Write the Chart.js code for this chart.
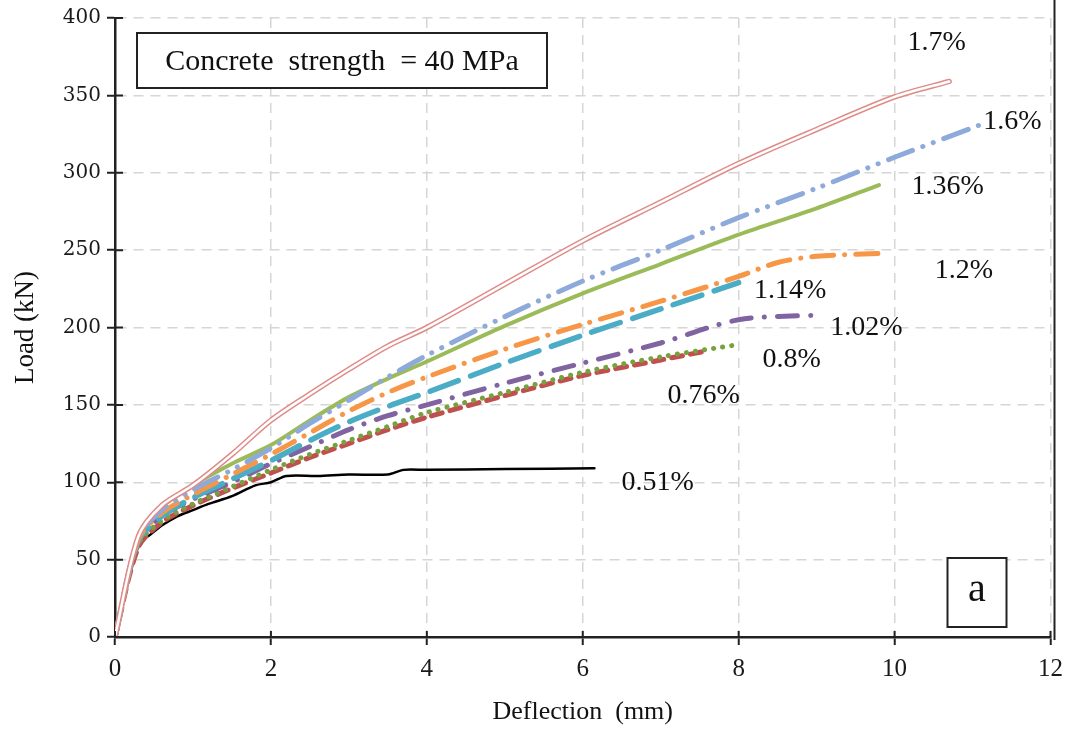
<!DOCTYPE html>
<html>
<head>
<meta charset="utf-8">
<script src="https://cdn.jsdelivr.net/npm/chart.js@4/dist/chart.umd.min.js"></script>
<style>
  html, body { margin: 0; padding: 0; background: #fff; }
  #wrap { width: 1072px; height: 733px; }
</style>
</head>
<body>
<div id="wrap"><canvas id="loadChart" width="1072" height="733"></canvas></div>
<script>
// load-deflection curves, one pair of arrays per reinforcement ratio
const x170 = [0, 0.3, 0.6, 1, 1.5, 2, 2.5, 3, 3.5, 4, 5, 6, 7, 8, 9, 10, 10.7];
const load170 = [0, 65, 85, 98, 118, 140, 157, 173, 188, 200, 228, 256, 281, 306, 328, 349, 359];

const x160 = [0, 0.3, 0.6, 1, 1.5, 2, 2.5, 3, 3.5, 4, 5, 6, 7, 8, 9, 10, 11.1];
const load160 = [0, 64, 82, 95, 108, 122, 138, 153, 168, 182, 207, 230, 250, 271, 290, 310, 331];

const x136 = [0, 0.3, 0.6, 1, 1.5, 2, 2.5, 3, 3.5, 4, 5, 6, 7, 8, 9, 9.8];
const load136 = [0, 64, 84, 98, 112, 124, 140, 155, 167, 178, 201, 222, 241, 260, 277, 292];

const x120 = [0, 0.3, 0.6, 1, 1.5, 2, 2.5, 3, 3.5, 4, 5, 6, 7, 8, 8.5, 9, 9.9];
const load120 = [0, 63, 80, 92, 105, 118, 132, 146, 158, 168, 186, 202, 217, 233, 242, 246, 248];

const x114 = [0, 0.3, 0.6, 1, 1.5, 2, 2.5, 3, 3.5, 4, 5, 6, 7, 8];
const load114 = [0, 62, 78, 90, 102, 114, 127, 139, 149, 158, 177, 195, 212, 229];

const x102 = [0, 0.3, 0.6, 1, 1.5, 2, 2.5, 3, 3.5, 4, 5, 6, 7, 8, 9];
const load102 = [0, 62, 78, 89, 100, 112, 123, 134, 143, 150, 164, 177, 190, 205, 208];

const x080 = [0, 0.3, 0.6, 1, 1.5, 2, 2.5, 3, 3.5, 4, 5, 6, 7, 8];
const load080 = [0, 60, 75, 86, 97, 108, 118, 127, 136, 145, 158, 171, 181, 189];

const x076 = [0, 0.3, 0.6, 1, 1.5, 2, 2.5, 3, 3.5, 4, 5, 6, 7, 7.6];
const load076 = [0, 58, 74, 85, 96, 106, 116, 125, 134, 142, 156, 169, 179, 185];

const x051 = [0, 0.3, 0.45, 0.6, 0.8, 1, 1.2, 1.5, 1.8, 2, 2.2, 2.6, 3, 3.5, 3.7, 4, 5, 6.15];
const load051 = [0, 60, 66, 72, 78, 82, 86, 91, 98, 100, 104, 104, 105, 105, 108, 108, 108.5, 109];

// curve labels, placed in data units
const labelText = ['1.7%', '1.6%', '1.36%', '1.2%', '1.14%', '1.02%', '0.8%', '0.76%', '0.51%'];
const labelX = [10.54, 11.51, 10.68, 10.89, 8.66, 9.64, 8.68, 7.55, 6.96];
const labelY = [384, 333, 291, 237, 224, 200, 179, 156, 99.5];

const xTicks = [0, 2, 4, 6, 8, 10, 12];
const yTicks = [0, 50, 100, 150, 200, 250, 300, 350, 400];

function pts(xs, ys) {
  return xs.map((v, i) => ({ x: v, y: ys[i] }));
}

function line(label, xs, ys, color, width, dash, order) {
  return {
    label: label,
    data: pts(xs, ys),
    borderColor: color,
    borderWidth: width,
    borderDash: dash,
    borderCapStyle: 'round',
    borderJoinStyle: 'round',
    pointRadius: 0,
    tension: 0.3,
    fill: false,
    order: order
  };
}

const serif = "'Liberation Serif', 'Times New Roman', serif";

const curveLabels = {
  id: 'curveLabels',
  afterDatasetsDraw(chart) {
    const ctx = chart.ctx;
    const xs = chart.scales.x, ys = chart.scales.y;
    const area = chart.chartArea;
    ctx.save();
    ctx.fillStyle = '#111';
    ctx.font = '28px ' + serif;
    ctx.textAlign = 'center';
    ctx.textBaseline = 'middle';
    labelText.forEach((t, i) => {
      ctx.fillText(t, xs.getPixelForValue(labelX[i]), ys.getPixelForValue(labelY[i]));
    });

    // note box, top left
    ctx.fillStyle = '#fff';
    ctx.fillRect(area.left + 22, area.top + 15, 410, 55);
    ctx.strokeStyle = '#222';
    ctx.lineWidth = 2;
    ctx.strokeRect(area.left + 22, area.top + 15, 410, 55);
    ctx.fillStyle = '#111';
    ctx.font = '30px ' + serif;
    ctx.fillText('Concrete  strength  = 40 MPa', area.left + 22 + 205, area.top + 44);

    // panel letter, bottom right
    ctx.fillStyle = '#fff';
    ctx.fillRect(area.right - 103, area.bottom - 79, 59, 69);
    ctx.strokeRect(area.right - 103, area.bottom - 79, 59, 69);
    ctx.fillStyle = '#111';
    ctx.font = '40px ' + serif;
    ctx.fillText('a', area.right - 73.5, area.bottom - 47);

    // inner tick marks and right frame
    ctx.strokeStyle = '#222';
    ctx.lineWidth = 2;
    ctx.beginPath();
    yTicks.forEach(v => {
      const py = ys.getPixelForValue(v);
      ctx.moveTo(area.left, py);
      ctx.lineTo(area.left + 8, py);
    });
    xTicks.forEach(v => {
      const px = xs.getPixelForValue(v);
      ctx.moveTo(px, area.bottom);
      ctx.lineTo(px, area.bottom - 6);
    });
    ctx.moveTo(area.right + 4, 0);
    ctx.lineTo(area.right + 4, area.bottom + 3);
    ctx.stroke();
    ctx.restore();
  }
};

new Chart(document.getElementById('loadChart'), {
  type: 'line',
  data: {
    datasets: [
      line('0.51%', x051, load051, '#000000', 2.5, [], 9),
      line('0.76%', x076, load076, '#c0504d', 5, [11, 8], 8),
      line('0.8%', x080, load080, '#77a03e', 5, [0.1, 9], 7),
      line('1.02%', x102, load102, '#8064a2', 5, [20, 13, 0.1, 13], 6),
      line('1.14%', x114, load114, '#4bacc6', 5.5, [30, 13], 5),
      line('1.2%', x120, load120, '#f79646', 5, [22, 11, 0.1, 11], 4),
      line('1.36%', x136, load136, '#9bbb59', 4, [], 3),
      line('1.6%', x160, load160, '#8eaadb', 5, [26, 11, 0.1, 11, 0.1, 11], 2),
      line('1.7%', x170, load170, '#df8c89', 5.5, [], 1),
      line('1.7% core', x170, load170, '#ffffff', 2.5, [], 0)
    ]
  },
  options: {
    responsive: false,
    animation: false,
    layout: { padding: { left: 0, right: 0, top: 18, bottom: 0 } },
    plugins: {
      legend: { display: false },
      tooltip: { enabled: false }
    },
    scales: {
      x: {
        type: 'linear',
        min: 0,
        max: 12,
        afterFit: s => { s.height = 96; },
        afterBuildTicks: s => { s.ticks = xTicks.map(v => ({ value: v })); },
        ticks: {
          color: '#1a1a1a',
          font: { family: serif, size: 25 },
          padding: 9
        },
        grid: {
          color: '#d6d6d6',
          lineWidth: 1.5,
          tickColor: '#222',
          tickLength: 8,
          tickWidth: 2,
          tickBorderDash: []
        },
        border: { color: '#222', width: 2.5, dash: [10, 7] },
        title: {
          display: true,
          text: 'Deflection  (mm)',
          color: '#111',
          font: { family: serif, size: 26 },
          padding: { top: 0, bottom: 5 }
        }
      },
      y: {
        type: 'linear',
        min: 0,
        max: 400,
        afterFit: s => { s.width = 115; },
        afterBuildTicks: s => { s.ticks = yTicks.map(v => ({ value: v })); },
        ticks: {
          color: '#1a1a1a',
          font: { family: "'DejaVu Serif', serif", size: 20 },
          padding: 6
        },
        grid: {
          color: '#d6d6d6',
          lineWidth: 1.5,
          tickColor: '#222',
          tickLength: 8,
          tickWidth: 2,
          tickBorderDash: []
        },
        border: { color: '#222', width: 2.5, dash: [10, 7] },
        title: {
          display: true,
          text: 'Load (kN)',
          color: '#111',
          font: { family: serif, size: 27 },
          padding: { top: 10, bottom: 0 }
        }
      }
    }
  },
  plugins: [curveLabels]
});
</script>
</body>
</html>
